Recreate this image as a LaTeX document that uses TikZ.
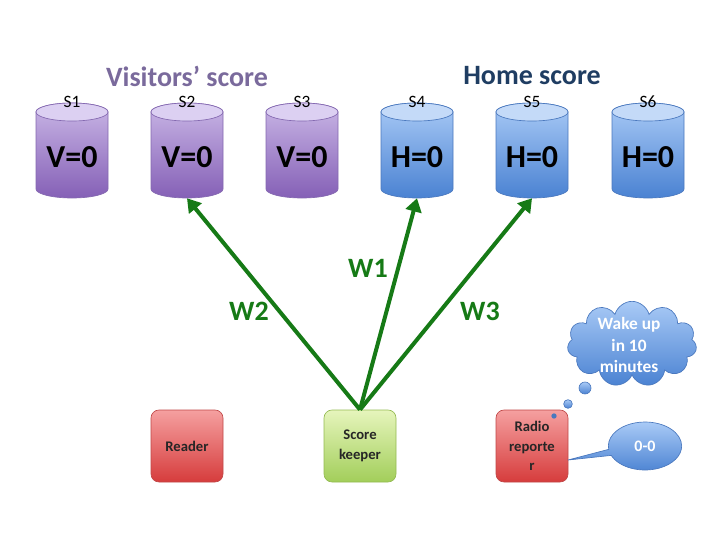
\documentclass[tikz,border=0pt]{standalone}
\usepackage{fontspec}
\setmainfont{Carlito}
\usetikzlibrary{shapes.symbols,shapes.callouts,shapes.geometric,arrows.meta}
\definecolor{purtop}{HTML}{C9B6E6}
\definecolor{purbot}{HTML}{8560B6}
\definecolor{purend}{HTML}{DCD0F2}
\definecolor{purline}{HTML}{8468B0}
\definecolor{blutop}{HTML}{A9CAF6}
\definecolor{blubot}{HTML}{4A82D2}
\definecolor{bluend}{HTML}{C4DAF8}
\definecolor{bluline}{HTML}{4A78BE}
\definecolor{arrgreen}{HTML}{167A16}
\definecolor{vistxt}{HTML}{7A6A9C}
\definecolor{hometxt}{HTML}{1F3D62}
\definecolor{redtop}{HTML}{F5A0A0}
\definecolor{redbot}{HTML}{D63C3C}
\definecolor{redline}{HTML}{C04848}
\definecolor{grntop}{HTML}{E6F5BC}
\definecolor{grnbot}{HTML}{A2CE5A}
\definecolor{grnline}{HTML}{94BA52}
\newcommand\mycyl[8]{%
  \path[top color=#3,bottom color=#4,draw=#6,line width=0.5pt]
    (#2-36,428) -- (#2-36,351) arc (180:360:36 and 9) -- (#2+36,428) arc (0:180:36 and 9) -- cycle;
  \path[fill=#5,draw=#6,line width=0.5pt] (#2,428) ellipse (36 and 9);
  \node[inner sep=0,minimum width=54pt,minimum height=71.25pt] (#1) at (#2,389.5) {};
  \node[slabel] at (#2,438) {#8};
  \node[bigtxt] at (#2,383) {#7};
}
\begin{document}
\begin{tikzpicture}[x=0.75pt,y=0.75pt,
  slabel/.style={font=\fontsize{13}{15}\selectfont,inner sep=0},
  bigtxt/.style={font=\fontsize{24}{28}\selectfont\bfseries,inner sep=0},
  heading/.style={font=\fontsize{21}{24}\selectfont\bfseries,inner sep=0},
  wlabel/.style={font=\fontsize{21}{24}\selectfont\bfseries,text=arrgreen,inner sep=0},
  actor/.style={rounded corners=6pt,minimum width=54pt,minimum height=54pt,inner sep=1pt,
    align=center,font=\fontsize{11}{14.5}\selectfont\bfseries,text=black!85,line width=0.5pt},
  redbox/.style={actor,top color=redtop,bottom color=redbot,draw=redline},
  grnbox/.style={actor,top color=grntop,bottom color=grnbot,draw=grnline},
  bubble/.style={top color=blutop,bottom color=blubot,draw=bluline,line width=0.5pt},
  btext/.style={text=white,font=\fontsize{13}{16}\selectfont\bfseries,align=center,inner sep=0},
  warrow/.style={draw=arrgreen,line width=3pt,-{Triangle[length=10pt,width=12pt]}}
  ]
\useasboundingbox (0,0) rectangle (720,540);
\mycyl{s1}{72}{purtop}{purbot}{purend}{purline}{V=0}{S1}
\mycyl{s2}{187}{purtop}{purbot}{purend}{purline}{V=0}{S2}
\mycyl{s3}{302}{purtop}{purbot}{purend}{purline}{V=0}{S3}
\mycyl{s4}{417}{blutop}{blubot}{bluend}{bluline}{H=0}{S4}
\mycyl{s5}{532}{blutop}{blubot}{bluend}{bluline}{H=0}{S5}
\mycyl{s6}{648}{blutop}{blubot}{bluend}{bluline}{H=0}{S6}
\node[heading,text=vistxt] (vh) at (187,464) {Visitors’ score};
\node[heading,text=hometxt] (hh) at (532,464) {Home score};
\node[redbox] (reader) at (187,94) {Reader};
\node[grnbox] (keeper) at (360,94) {Score\\keeper};
\node[redbox] (radio) at (532,94) {Radio\\reporte\\r};
\draw[warrow] (keeper.north) -- (s2.south);
\draw[warrow] (keeper.north) -- (s4.south);
\draw[warrow] (keeper.north) -- (s5.south);
\node[wlabel] (w1) at (368,272) {W1};
\node[wlabel] (w2) at (249,229) {W2};
\node[wlabel] (w3) at (480,229) {W3};
\node[cloud,cloud puffs=11,cloud ignores aspect,bubble,minimum width=97pt,minimum height=64pt,inner sep=0pt] (cloud) at (632,196) {};
\node[btext] (cloudtxt) at (629,195) {Wake up\\in 10\\minutes};
\node[circle,bubble,minimum size=9pt,inner sep=0] (c1) at (585,152) {};
\node[circle,bubble,minimum size=6.5pt,inner sep=0] (c2) at (568,136) {};
\node[circle,fill=bluline,minimum size=4pt,inner sep=0] (c3) at (554,124) {};
\node[ellipse callout,bubble,minimum width=55pt,minimum height=36pt,inner sep=0,
  callout absolute pointer={(568,80)}] (score) at (645,94) {};
\node[btext,font=\fontsize{12}{14}\selectfont\bfseries] (scoretxt) at (645,94) {0-0};
\end{tikzpicture}
\end{document}
